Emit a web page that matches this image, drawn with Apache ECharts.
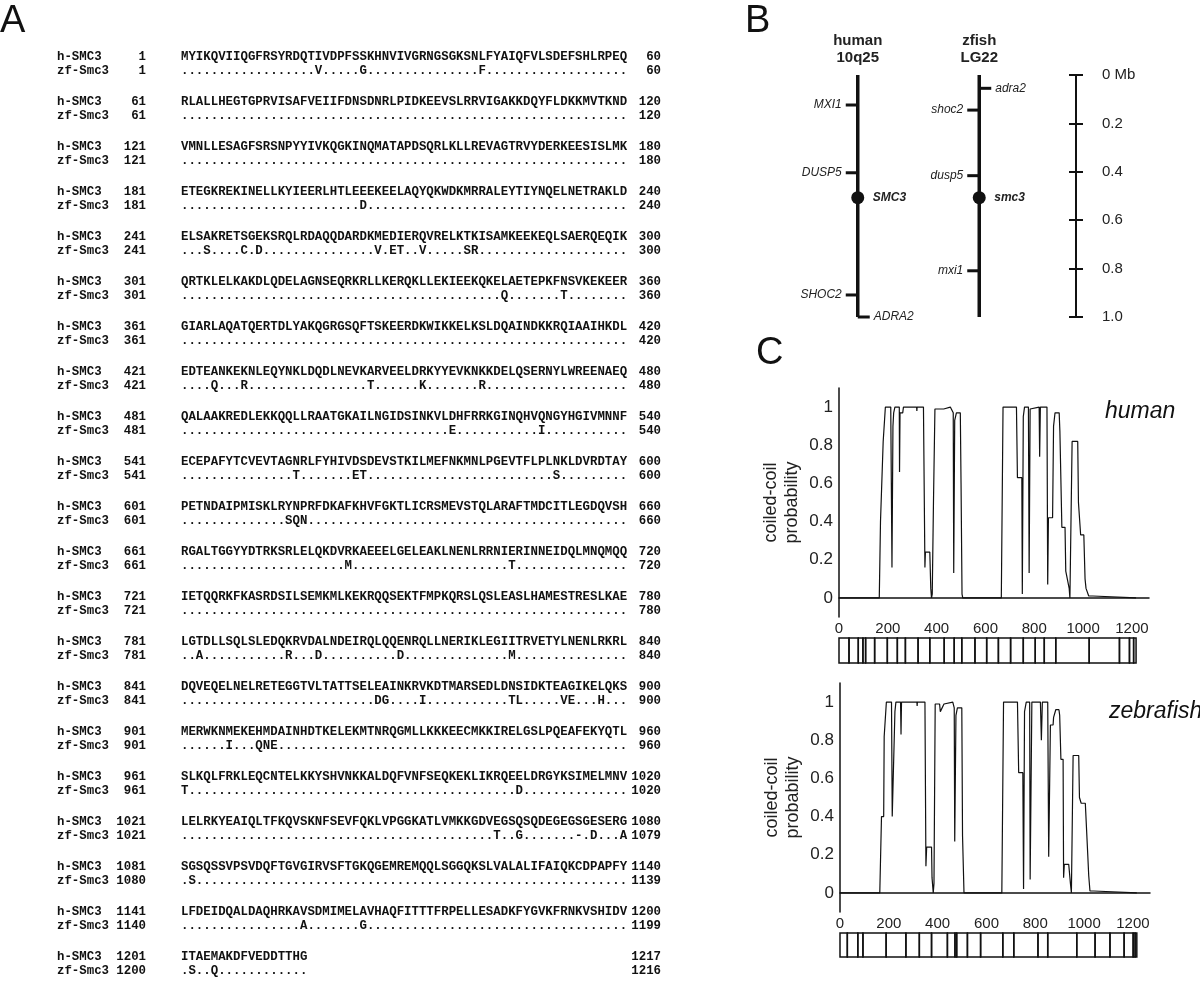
<!DOCTYPE html>
<html>
<head>
<meta charset="utf-8">
<script src="https://cdn.jsdelivr.net/npm/echarts@6/dist/echarts.min.js"></script>
<style>html,body{margin:0;background:#fff}#chart{width:1200px;height:996px}</style>
</head>
<body>
<div id="chart"></div>
<script>
// ---------- A: alignment ----------
const d = n => '.'.repeat(n);
const hSeq = [
  'MYIKQVIIQGFRSYRDQTIVDPFSSKHNVIVGRNGSGKSNLFYAIQFVLSDEFSHLRPEQ',
  'RLALLHEGTGPRVISAFVEIIFDNSDNRLPIDKEEVSLRRVIGAKKDQYFLDKKMVTKND',
  'VMNLLESAGFSRSNPYYIVKQGKINQMATAPDSQRLKLLREVAGTRVYDERKEESISLMK',
  'ETEGKREKINELLKYIEERLHTLEEEKEELAQYQKWDKMRRALEYTIYNQELNETRAKLD',
  'ELSAKRETSGEKSRQLRDAQQDARDKMEDIERQVRELKTKISAMKEEKEQLSAERQEQIK',
  'QRTKLELKAKDLQDELAGNSEQRKRLLKERQKLLEKIEEKQKELAETEPKFNSVKEKEER',
  'GIARLAQATQERTDLYAKQGRGSQFTSKEERDKWIKKELKSLDQAINDKKRQIAAIHKDL',
  'EDTEANKEKNLEQYNKLDQDLNEVKARVEELDRKYYEVKNKKDELQSERNYLWREENAEQ',
  'QALAAKREDLEKKQQLLRAATGKAILNGIDSINKVLDHFRRKGINQHVQNGYHGIVMNNF',
  'ECEPAFYTCVEVTAGNRLFYHIVDSDEVSTKILMEFNKMNLPGEVTFLPLNKLDVRDTAY',
  'PETNDAIPMISKLRYNPRFDKAFKHVFGKTLICRSMEVSTQLARAFTMDCITLEGDQVSH',
  'RGALTGGYYDTRKSRLELQKDVRKAEEELGELEAKLNENLRRNIERINNEIDQLMNQMQQ',
  'IETQQRKFKASRDSILSEMKMLKEKRQQSEKTFMPKQRSLQSLEASLHAMESTRESLKAE',
  'LGTDLLSQLSLEDQKRVDALNDEIRQLQQENRQLLNERIKLEGIITRVETYLNENLRKRL',
  'DQVEQELNELRETEGGTVLTATTSELEAINKRVKDTMARSEDLDNSIDKTEAGIKELQKS',
  'MERWKNMEKEHMDAINHDTKELEKMTNRQGMLLKKKEECMKKIRELGSLPQEAFEKYQTL',
  'SLKQLFRKLEQCNTELKKYSHVNKKALDQFVNFSEQKEKLIKRQEELDRGYKSIMELMNV',
  'LELRKYEAIQLTFKQVSKNFSEVFQKLVPGGKATLVMKKGDVEGSQSQDEGEGSGESERG',
  'SGSQSSVPSVDQFTGVGIRVSFTGKQGEMREMQQLSGGQKSLVALALIFAIQKCDPAPFY',
  'LFDEIDQALDAQHRKAVSDMIMELAVHAQFITTTFRPELLESADKFYGVKFRNKVSHIDV',
  'ITAEMAKDFVEDDTTHG'
];
const zfSeq = [
  d(18) + 'V' + d(5) + 'G' + d(15) + 'F' + d(19),
  d(60),
  d(60),
  d(24) + 'D' + d(35),
  d(3) + 'S' + d(4) + 'C' + d(1) + 'D' + d(15) + 'V' + d(1) + 'ET' + d(2) + 'V' + d(5) + 'SR' + d(20),
  d(43) + 'Q' + d(7) + 'T' + d(8),
  d(60),
  d(4) + 'Q' + d(3) + 'R' + d(16) + 'T' + d(6) + 'K' + d(7) + 'R' + d(19),
  d(36) + 'E' + d(11) + 'I' + d(11),
  d(15) + 'T' + d(7) + 'ET' + d(25) + 'S' + d(9),
  d(14) + 'SQN' + d(43),
  d(22) + 'M' + d(21) + 'T' + d(15),
  d(60),
  d(2) + 'A' + d(11) + 'R' + d(3) + 'D' + d(10) + 'D' + d(14) + 'M' + d(15),
  d(26) + 'DG' + d(4) + 'I' + d(11) + 'TL' + d(5) + 'VE' + d(3) + 'H' + d(3),
  d(6) + 'I' + d(3) + 'QNE' + d(47),
  'T' + d(44) + 'D' + d(14),
  d(42) + 'T' + d(2) + 'G' + d(7) + '-' + d(1) + 'D' + d(3) + 'A',
  d(1) + 'S' + d(58),
  d(16) + 'A' + d(7) + 'G' + d(35),
  d(1) + 'S' + d(2) + 'Q' + d(12)
];
const hStart = [1, 61, 121, 181, 241, 301, 361, 421, 481, 541, 601, 661, 721, 781, 841, 901, 961, 1021, 1081, 1141, 1201];
const zfStart = [1, 61, 121, 181, 241, 301, 361, 421, 481, 541, 601, 661, 721, 781, 841, 901, 961, 1021, 1080, 1140, 1200];
const hEnd = [60, 120, 180, 240, 300, 360, 420, 480, 540, 600, 660, 720, 780, 840, 900, 960, 1020, 1080, 1140, 1200, 1217];
const zfEnd = [60, 120, 180, 240, 300, 360, 420, 480, 540, 600, 660, 720, 780, 840, 900, 960, 1020, 1079, 1139, 1199, 1216];

// ---------- B: chromosome map (positions in Mb) ----------
const chromNames = ['human\n10q25', 'zfish\nLG22'];
const humanGenes = [['MXI1', 0.124], ['DUSP5', 0.404], ['SMC3', 0.507], ['SHOC2', 0.909], ['ADRA2', 1.0]];
const zfishGenes = [['adra2', 0.055], ['shoc2', 0.145], ['dusp5', 0.416], ['smc3', 0.507], ['mxi1', 0.809]];
const mbTicks = ['0 Mb', '0.2', '0.4', '0.6', '0.8', '1.0'];

// ---------- C: coiled-coil probability ----------
const posTicks = [0, 200, 400, 600, 800, 1000, 1200];
const probTicks = ['0', '0.2', '0.4', '0.6', '0.8', '1'];
const humanCoil = [
  [0, 0], [165, 0], [170, 0.4], [177, 0.4], [181, 0.82], [185, 0.83], [190, 1], [212, 1], [217, 0.16], [221, 0.9],
  [224, 0.97], [229, 1], [247, 1], [248, 0.66], [250, 0.97], [261, 0.97], [264, 1], [318, 1], [319, 0.98], [320, 1],
  [346, 1], [352, 0.16], [354, 0.24], [372, 0.24], [376, 0.05], [379, 0], [382, 0.02], [387, 0.5], [393, 0.99], [429, 0.99],
  [431, 1], [456, 1], [463, 0.99], [468, 0.97], [470, 0.13], [474, 0.93], [478, 0.93], [481, 0.97], [497, 0.97], [500, 0.6],
  [504, 0.02], [507, 0], [665, 0], [672, 1], [727, 1], [731, 0.63], [749, 0.63], [751, 0.02], [755, 0.95], [760, 1],
  [776, 1], [779, 0.13], [783, 0.99], [788, 1], [820, 1], [822, 0.74], [825, 1], [852, 1], [855, 0.07], [858, 0.42],
  [875, 0.42], [879, 0.9], [885, 0.97], [902, 0.97], [905, 0.87], [912, 0.87], [913, 0.37], [926, 0.37], [929, 0.14], [937, 0.14],
  [943, 0.05], [946, 0], [951, 0], [955, 0.82], [978, 0.82], [981, 0.5], [988, 0.5], [990, 0.33], [1003, 0.33], [1008, 0.1],
  [1012, 0.05], [1019, 0.05], [1023, 0.01], [1040, 0.01], [1047, 0], [1217, 0]
];
const zfishCoil = [
  [0, 0], [163, 0], [170, 0.4], [179, 0.4], [181, 0.82], [185, 0.83], [190, 1], [211, 1], [214, 0.4], [222, 0.4],
  [225, 0.95], [229, 1], [248, 1], [250, 0.83], [252, 1], [315, 1], [316, 0.98], [317, 1], [348, 1], [352, 0.14],
  [355, 0.24], [375, 0.24], [377, 0.08], [382, 0], [385, 0.05], [390, 0.99], [408, 0.99], [411, 0.95], [419, 0.96], [426, 0.99],
  [430, 1], [462, 1], [464, 0.99], [468, 0.97], [470, 0.27], [475, 0.93], [481, 0.97], [499, 0.97], [502, 0.3], [508, 0],
  [663, 0], [670, 1], [727, 1], [732, 0.63], [749, 0.63], [752, 0.02], [756, 0.95], [763, 1], [777, 1], [779, 0.07],
  [786, 1], [821, 1], [825, 0.8], [829, 1], [851, 1], [855, 0.19], [862, 0.88], [873, 0.88], [875, 0.92], [881, 0.92],
  [884, 0.96], [897, 0.96], [900, 0.93], [905, 0.7], [914, 0.7], [916, 0.08], [919, 0.15], [937, 0.15], [944, 0.05], [948, 0],
  [953, 0], [955, 0.72], [978, 0.72], [981, 0.5], [985, 0.5], [988, 0.47], [1005, 0.47], [1015, 0.2], [1019, 0.09], [1024, 0.01],
  [1040, 0.01], [1047, 0], [1216, 0]
];
// exon boundaries (aa)
const humanExons = [0, 41, 79, 98, 109, 146, 198, 239, 272, 324, 372, 431, 472, 503, 557, 605, 653, 703, 755, 804, 841, 888, 1025, 1149, 1190, 1207, 1217];
const zfishExons = [0, 30, 73, 94, 189, 270, 325, 375, 440, 471, 478, 522, 576, 667, 712, 811, 851, 970, 1045, 1106, 1164, 1201, 1209, 1216];

const sans = '"Liberation Sans", Arial, sans-serif';
const mono = 'bold 12.4px "Liberation Mono", "Courier New", monospace';
const ink = '#111';

function txt(x, y, s, font, align) {
  return {
    type: 'text', x: x, y: y, silent: true,
    style: {
      text: s, font: font, fill: ink,
      align: align || 'left', textAlign: align || 'left',
      verticalAlign: 'middle', textVerticalAlign: 'middle'
    }
  };
}

const graphics = [];
hSeq.forEach((s, i) => {
  const y = 57 + i * 45;
  graphics.push(txt(57, y, 'h-SMC3', mono));
  graphics.push(txt(146, y, String(hStart[i]), mono, 'right'));
  graphics.push(txt(181, y, s, mono));
  graphics.push(txt(661, y, String(hEnd[i]), mono, 'right'));
  graphics.push(txt(57, y + 14, 'zf-Smc3', mono));
  graphics.push(txt(146, y + 14, String(zfStart[i]), mono, 'right'));
  graphics.push(txt(181, y + 14, zfSeq[i], mono));
  graphics.push(txt(661, y + 14, String(zfEnd[i]), mono, 'right'));
});
graphics.push(txt(0, 22, 'A', '38px ' + sans));
graphics.push(txt(745, 22, 'B', '38px ' + sans));
graphics.push(txt(756, 354, 'C', '38px ' + sans));
graphics.push(txt(1105, 412, 'human', 'italic 23px ' + sans));
graphics.push(txt(1109, 712, 'zebrafish', 'italic 23px ' + sans));

// gene ticks on chromosomes
const geneRows = humanGenes.map(g => [0, g[1], g[0]]).concat(zfishGenes.map(g => [1, g[1], g[0]]));
const rightSide = ['ADRA2', 'adra2'];

function geneItem(params, api) {
  const row = geneRows[params.dataIndex];
  const p = api.coord([row[0], row[1]]);
  const name = row[2];
  if (name.toLowerCase() === 'smc3') {
    return {
      type: 'group', children: [
        { type: 'circle', shape: { cx: p[0], cy: p[1], r: 6.5 }, style: { fill: ink } },
        { type: 'text', style: { text: name, x: p[0] + 15, y: p[1], font: 'italic bold 12px ' + sans, fill: '#222',
          align: 'left', textAlign: 'left', verticalAlign: 'middle', textVerticalAlign: 'middle' } }
      ]
    };
  }
  const dir = rightSide.indexOf(name) >= 0 ? 1 : -1;
  return {
    type: 'group', children: [
      { type: 'line', shape: { x1: p[0], y1: p[1], x2: p[0] + dir * 12, y2: p[1] }, style: { stroke: ink, lineWidth: 3 } },
      { type: 'text', style: { text: name, x: p[0] + dir * 16, y: p[1], font: 'italic 12px ' + sans, fill: '#222',
        align: dir > 0 ? 'left' : 'right', textAlign: dir > 0 ? 'left' : 'right',
        verticalAlign: 'middle', textVerticalAlign: 'middle' } }
    ]
  };
}

function exonSeries(bounds, idx) {
  const rows = [];
  for (let i = 0; i < bounds.length - 1; i++) rows.push([bounds[i], bounds[i + 1]]);
  return {
    type: 'custom', xAxisIndex: idx, yAxisIndex: idx, data: rows, encode: { x: [0, 1] },
    renderItem: (params, api) => {
      const a = api.coord([api.value(0), 1]);
      const b = api.coord([api.value(1), 0]);
      return { type: 'rect', shape: { x: a[0], y: a[1], width: b[0] - a[0], height: b[1] - a[1] },
        style: { fill: 'none', stroke: ink, lineWidth: 1.5 } };
    }
  };
}

function plotX(gi, show) {
  return {
    gridIndex: gi, type: 'value', min: 0, max: 1270, interval: 200, show: show,
    axisLine: { lineStyle: { color: ink, width: 1.5 } },
    axisTick: { show: false }, splitLine: { show: false },
    axisLabel: { fontSize: 15, color: '#222', fontFamily: sans, margin: 4,
      formatter: v => posTicks.indexOf(v) >= 0 ? String(v) : '' }
  };
}
function plotY(gi) {
  return {
    gridIndex: gi, type: 'value', min: -0.1, max: 1.1, interval: 0.1,
    axisLine: { show: true, lineStyle: { color: ink, width: 1.5 } },
    axisTick: { show: false }, splitLine: { show: false },
    axisLabel: { fontSize: 17, color: '#222', fontFamily: sans, margin: 6,
      formatter: v => {
        const k = Math.round(v * 10);
        return (k >= 0 && k <= 10 && k % 2 === 0) ? probTicks[k / 2] : '';
      } },
    name: 'coiled-coil\nprobability', nameLocation: 'middle', nameGap: 36, nameRotate: 90,
    nameTextStyle: { fontSize: 18, lineHeight: 21, color: '#222', fontFamily: sans }
  };
}
function hiddenY(gi) {
  return { gridIndex: gi, type: 'value', min: 0, max: 1, show: false };
}

const myChart = echarts.init(document.getElementById('chart'));
myChart.setOption({
  animation: false,
  backgroundColor: '#fff',
  graphic: graphics,
  grid: [
    { left: 797, top: 75, width: 243, height: 242 },
    { left: 1076, top: 75, width: 10, height: 242 },
    { left: 1076, top: 75, width: 10, height: 242 },
    { left: 839, top: 388, width: 310, height: 229 },
    { left: 839, top: 638, width: 310, height: 25 },
    { left: 840, top: 683, width: 310, height: 229 },
    { left: 840, top: 933, width: 310, height: 24 }
  ],
  xAxis: [
    { gridIndex: 0, type: 'category', data: chromNames, position: 'top',
      axisLine: { show: false }, axisTick: { show: false },
      axisLabel: { fontWeight: 'bold', fontSize: 15, lineHeight: 17, color: '#222', margin: 9, fontFamily: sans } },
    { gridIndex: 1, type: 'value', show: false },
    { gridIndex: 2, type: 'value', show: false },
    plotX(3, true), plotX(4, false), plotX(5, true), plotX(6, false)
  ],
  yAxis: [
    { gridIndex: 0, type: 'value', min: 0, max: 1, inverse: true, show: false },
    { gridIndex: 1, type: 'value', position: 'right', inverse: true, min: 0, max: 1, interval: 0.2,
      axisLine: { show: true, lineStyle: { color: ink, width: 2 } },
      axisTick: { show: true, length: 7, lineStyle: { color: ink, width: 2 } },
      splitLine: { show: false },
      axisLabel: { fontSize: 15, color: '#222', margin: 16, fontFamily: sans,
        formatter: v => mbTicks[Math.round(v * 5)] } },
    { gridIndex: 2, type: 'value', position: 'right', inverse: true, min: 0, max: 1, interval: 0.2,
      axisLine: { show: false },
      axisTick: { show: true, inside: true, length: 7, lineStyle: { color: ink, width: 2 } },
      splitLine: { show: false }, axisLabel: { show: false } },
    plotY(3), hiddenY(4), plotY(5), hiddenY(6)
  ],
  series: [
    { type: 'line', xAxisIndex: 0, yAxisIndex: 0, data: [[0, 0], [0, 1]], showSymbol: false,
      lineStyle: { color: ink, width: 3.5 } },
    { type: 'line', xAxisIndex: 0, yAxisIndex: 0, data: [[1, 0], [1, 1]], showSymbol: false,
      lineStyle: { color: ink, width: 3.5 } },
    { type: 'custom', xAxisIndex: 0, yAxisIndex: 0, data: geneRows.map(r => [r[0], r[1]]), renderItem: geneItem },
    { type: 'line', xAxisIndex: 3, yAxisIndex: 3, data: humanCoil, showSymbol: false,
      lineStyle: { color: ink, width: 1.2 } },
    exonSeries(humanExons, 4),
    { type: 'line', xAxisIndex: 5, yAxisIndex: 5, data: zfishCoil, showSymbol: false,
      lineStyle: { color: ink, width: 1.2 } },
    exonSeries(zfishExons, 6)
  ]
});
</script>
</body>
</html>
